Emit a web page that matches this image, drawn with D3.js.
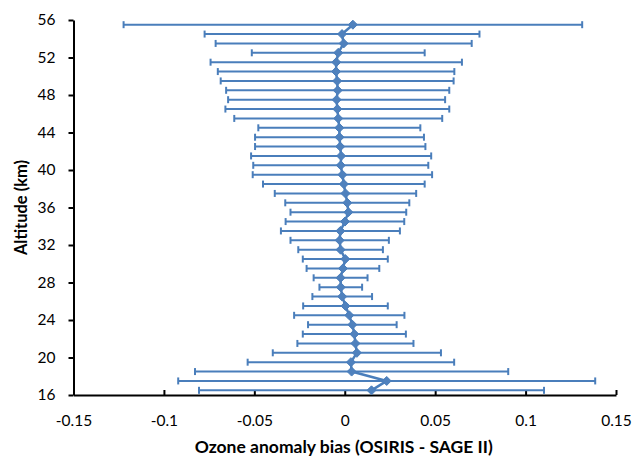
<!DOCTYPE html>
<html>
<head>
<meta charset="utf-8">
<script src="https://cdn.jsdelivr.net/npm/d3@7"></script>
<style>
  body { margin: 0; background: #fff; }
  svg { display: block; }
  text { font-family: Lato, 'Open Sans', sans-serif; fill: #000; }
</style>
</head>
<body>
<div class="chart"></div>
<script>
// altitude levels (km), bottom to top
const altitudes = [16.5, 17.5, 18.5, 19.5, 20.5, 21.5, 22.5, 23.5, 24.5, 25.5,
  26.5, 27.5, 28.5, 29.5, 30.5, 31.5, 32.5, 33.5, 34.5, 35.5,
  36.5, 37.5, 38.5, 39.5, 40.5, 41.5, 42.5, 43.5, 44.5, 45.5,
  46.5, 47.5, 48.5, 49.5, 50.5, 51.5, 52.5, 53.5, 54.5, 55.5];

// mean ozone anomaly bias (OSIRIS - SAGE II)
const bias = [0.0148, 0.0232, 0.0038, 0.0034, 0.0067, 0.0059, 0.0053, 0.0042, 0.0025, 0.0004,
  -0.0014, -0.0022, -0.0023, -0.0010, 0.0003, -0.0023, -0.0028, -0.0024, 0.0001, 0.0020,
  0.0014, 0.0004, -0.0005, -0.0013, -0.0022, -0.0020, -0.0025, -0.0029, -0.0030, -0.0036,
  -0.0041, -0.0045, -0.0039, -0.0042, -0.0048, -0.0047, -0.0036, -0.0006, -0.0015, 0.0045];

// error bar half-width (symmetric)
const errors = [0.0954, 0.1153, 0.0866, 0.0571, 0.0465, 0.0321, 0.0285, 0.0245, 0.0305, 0.0234,
  0.0165, 0.0118, 0.0149, 0.0201, 0.0235, 0.0234, 0.0272, 0.0329, 0.0328, 0.0320,
  0.0343, 0.0391, 0.0447, 0.0496, 0.0484, 0.0498, 0.0471, 0.0467, 0.0448, 0.0575,
  0.0619, 0.0600, 0.0617, 0.0644, 0.0654, 0.0695, 0.0478, 0.0708, 0.0760, 0.1268];

const xTicks = [-0.15, -0.1, -0.05, 0, 0.05, 0.1, 0.15];
const yTicks = [16, 20, 24, 28, 32, 36, 40, 44, 48, 52, 56];

const width = 633;
const height = 458;
const margin = { top: 20, right: 17, bottom: 63, left: 73.5 };
const blue = '#4A7EBB';

const data = altitudes.map((alt, i) => ({ alt, v: bias[i], e: errors[i] }));

const svg = d3.select('.chart')
  .append('svg')
  .attr('width', width)
  .attr('height', height);

const xScale = d3.scaleLinear()
  .domain([-0.15, 0.15])
  .range([margin.left, width - margin.right]);

const yScale = d3.scaleLinear()
  .domain([16, 56])
  .range([height - margin.bottom, margin.top]);

// axes
const xAxis = svg.append('g')
  .attr('transform', `translate(0,${height - margin.bottom})`)
  .call(d3.axisBottom(xScale)
    .tickValues(xTicks)
    .tickFormat(d => String(d))
    .tickSizeInner(-5)
    .tickSizeOuter(0)
    .tickPadding(20));

const yAxis = svg.append('g')
  .attr('transform', `translate(${margin.left},0)`)
  .call(d3.axisLeft(yScale)
    .tickValues(yTicks)
    .tickFormat(d => String(d))
    .tickSizeInner(5)
    .tickSizeOuter(0)
    .tickPadding(13));

[xAxis, yAxis].forEach(g => {
  g.select('.domain').attr('stroke', '#000').attr('stroke-width', 2);
  g.selectAll('.tick line').attr('stroke', '#000').attr('stroke-width', 2);
  g.selectAll('.tick text')
    .attr('font-family', 'Lato, sans-serif')
    .attr('font-size', 15.5)
    .attr('fill', '#000');
});

// error bars
const bars = svg.append('g')
  .attr('stroke', blue)
  .attr('stroke-width', 2);

bars.selectAll('line.err')
  .data(data)
  .enter()
  .append('line')
  .attr('class', 'err')
  .attr('x1', d => xScale(d.v - d.e))
  .attr('x2', d => xScale(d.v + d.e))
  .attr('y1', d => yScale(d.alt))
  .attr('y2', d => yScale(d.alt));

['lo', 'hi'].forEach(side => {
  bars.selectAll(`line.cap-${side}`)
    .data(data)
    .enter()
    .append('line')
    .attr('class', `cap-${side}`)
    .attr('x1', d => xScale(side === 'lo' ? d.v - d.e : d.v + d.e))
    .attr('x2', d => xScale(side === 'lo' ? d.v - d.e : d.v + d.e))
    .attr('y1', d => yScale(d.alt) - 3.5)
    .attr('y2', d => yScale(d.alt) + 3.5);
});

// bias profile line
const line = d3.line()
  .x(d => xScale(d.v))
  .y(d => yScale(d.alt));

svg.append('path')
  .datum(data)
  .attr('d', line)
  .attr('fill', 'none')
  .attr('stroke', blue)
  .attr('stroke-width', 2.5)
  .attr('stroke-linejoin', 'round');

// diamond markers
const r = 4.5;
svg.selectAll('path.marker')
  .data(data)
  .enter()
  .append('path')
  .attr('class', 'marker')
  .attr('d', `M0,${-r}L${r},0L0,${r}L${-r},0Z`)
  .attr('transform', d => `translate(${xScale(d.v)},${yScale(d.alt)})`)
  .attr('fill', '#4F81BD')
  .attr('stroke', blue)
  .attr('stroke-width', 1);

// axis titles
svg.append('text')
  .attr('x', (margin.left + width - margin.right) / 2 - 1)
  .attr('y', 453)
  .attr('text-anchor', 'middle')
  .attr('font-weight', 'bold')
  .attr('font-size', 17.5)
  .text('Ozone anomaly bias (OSIRIS - SAGE II)');

svg.append('text')
  .attr('transform', `translate(27,${(margin.top + height - margin.bottom) / 2}) rotate(-90)`)
  .attr('text-anchor', 'middle')
  .attr('font-weight', 'bold')
  .attr('font-size', 16.5)
  .text('Altitude (km)');
</script>
</body>
</html>
